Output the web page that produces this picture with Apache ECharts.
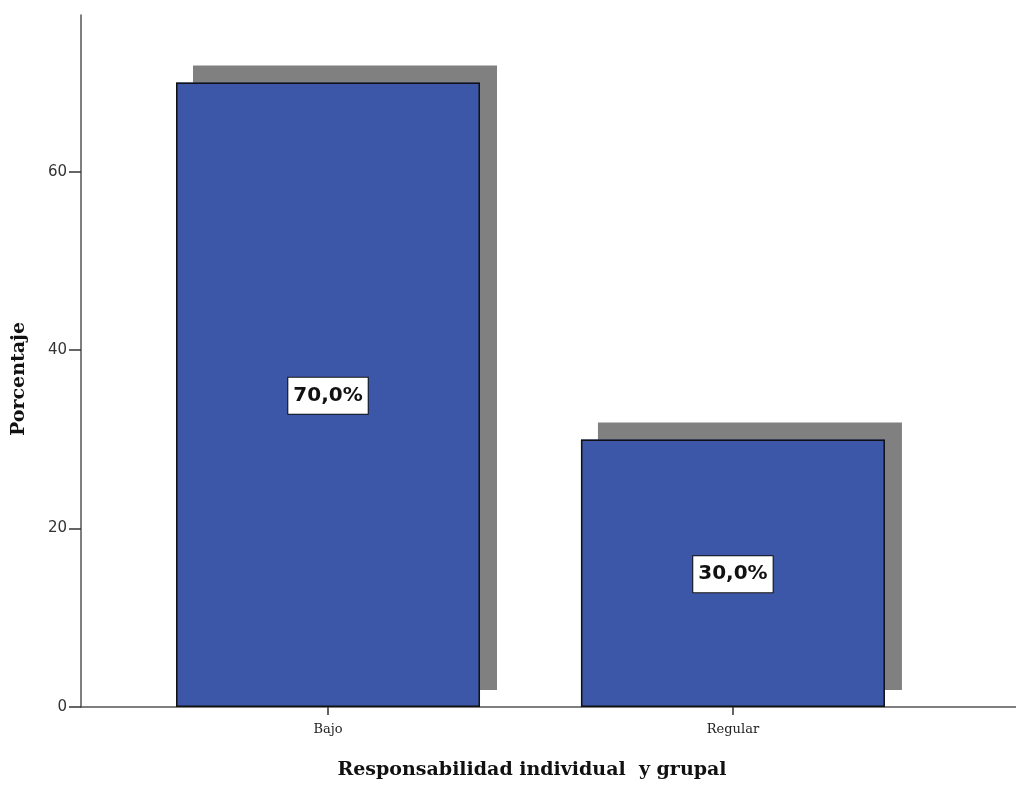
<!DOCTYPE html>
<html>
<head>
<meta charset="utf-8">
<script src="https://cdn.jsdelivr.net/npm/echarts@6/dist/echarts.min.js"></script>
<style>
html,body{margin:0;padding:0;background:#fff;}
#chart{width:1016px;height:785px;}
</style>
</head>
<body>
<div id="chart"></div>
<script>
const categories = ['Bajo', 'Regular'];
const percentages = [70.0, 30.0];
const yTicks = [0, 20, 40, 60];
const yTitle = 'Porcentaje';
const xTitle = 'Responsabilidad individual  y grupal';

const positions = categories.map((c, i) => i + 1);
const barData = positions.map((p, i) => [p, percentages[i]]);
const chart = echarts.init(document.getElementById('chart'));
chart.setOption({
  animation: false,
  backgroundColor: '#ffffff',
  grid: { left: 81, right: 0, top: 15, bottom: 77, containLabel: false },
  xAxis: {
    type: 'value',
    min: 0.390,
    max: 2.699,
    splitLine: { show: false },
    axisLine: { show: true, lineStyle: { color: '#555', width: 1.5 } },
    axisTick: { show: true, customValues: positions, length: 8, lineStyle: { color: '#333', width: 1.5 } },
    axisLabel: {
      customValues: positions,
      formatter: v => categories[Math.round(v) - 1] || '',
      fontFamily: 'DejaVu Serif', fontSize: 13, color: '#222', margin: 16
    },
    name: xTitle,
    nameLocation: 'middle',
    nameGap: 54,
    nameTextStyle: { fontFamily: 'DejaVu Serif', fontWeight: 'bold', fontSize: 19, color: '#111', padding: [0, 33, 0, 0] }
  },
  yAxis: {
    type: 'value',
    min: 0,
    max: 77.58,
    splitLine: { show: false },
    axisLine: { show: true, lineStyle: { color: '#555', width: 1.5 } },
    axisTick: { show: true, customValues: yTicks, length: 12, lineStyle: { color: '#333', width: 1.5 } },
    axisLabel: {
      customValues: yTicks,
      fontFamily: 'DejaVu Sans', fontSize: 15, color: '#333', margin: 14
    },
    name: yTitle,
    nameLocation: 'middle',
    nameGap: 52,
    nameTextStyle: { fontFamily: 'DejaVu Serif', fontWeight: 'bold', fontSize: 19, color: '#111', padding: [0, 36, 0, 0] }
  },
  series: [{
    type: 'bar',
    barWidth: 304,
    z: 1,
    data: barData,
    itemStyle: {
      color: '#3c57a8',
      borderWidth: 0,
      shadowColor: '#808080',
      shadowBlur: 0,
      shadowOffsetX: 17,
      shadowOffsetY: -17
    }
  }, {
    type: 'bar',
    barWidth: 304,
    barGap: '-100%',
    z: 2,
    data: barData,
    itemStyle: {
      color: '#3c57a8',
      borderColor: '#111',
      borderWidth: 1.5
    },
    label: {
      show: true,
      position: 'inside',
      formatter: p => p.value[1].toFixed(1).replace('.', ',') + '%',
      fontFamily: 'DejaVu Sans',
      fontWeight: 'bold',
      fontSize: 20,
      color: '#111',
      backgroundColor: '#ffffff',
      borderColor: '#111',
      borderWidth: 1,
      padding: [9, 5, 7, 5],
      offset: [0, 1]
    }
  }]
});
</script>
</body>
</html>
